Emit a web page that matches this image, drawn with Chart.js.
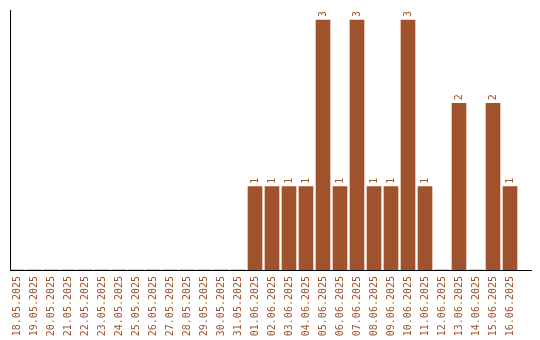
<!DOCTYPE html>
<html>
<head>
<meta charset="utf-8">
<script src="https://cdn.jsdelivr.net/npm/chart.js@4.4.1/dist/chart.umd.min.js"></script>
<style>
  html, body { margin: 0; padding: 0; background: #ffffff; }
  #wrap { width: 540px; height: 340px; position: relative; }
</style>
</head>
<body>
<div id="wrap"><canvas id="c" width="540" height="340"></canvas></div>
<script>
const categories = [
  "18.05.2025","19.05.2025","20.05.2025","21.05.2025","22.05.2025","23.05.2025",
  "24.05.2025","25.05.2025","26.05.2025","27.05.2025","28.05.2025","29.05.2025",
  "30.05.2025","31.05.2025","01.06.2025","02.06.2025","03.06.2025","04.06.2025",
  "05.06.2025","06.06.2025","07.06.2025","08.06.2025","09.06.2025","10.06.2025",
  "11.06.2025","12.06.2025","13.06.2025","14.06.2025","15.06.2025","16.06.2025"
];
const counts = [
  0,0,0,0,0,0,0,0,0,0,0,0,0,0,
  1,1,1,1,3,1,3,1,1,3,1,0,2,0,2,1
];

const BROWN = "#A0522D";
const FONT = "'DejaVu Sans Mono', 'Liberation Mono', monospace";

const points = categories.map((c, i) => ({ x: i, y: counts[i] }));

const valueLabels = {
  id: "valueLabels",
  afterDatasetsDraw(chart) {
    const ctx = chart.ctx;
    const meta = chart.getDatasetMeta(0);
    ctx.save();
    ctx.fillStyle = BROWN;
    ctx.font = "10px " + FONT;
    ctx.textAlign = "left";
    ctx.textBaseline = "middle";
    meta.data.forEach((el, i) => {
      const v = counts[i];
      if (!v) return;
      ctx.save();
      ctx.translate(el.x, el.y - 3);
      ctx.rotate(-Math.PI / 2);
      ctx.fillText(String(v), 0, 0);
      ctx.restore();
    });
    ctx.restore();
  }
};

const X_MIN = -7 / 17;
const X_MAX = X_MIN + 521 / 17;

new Chart(document.getElementById("c"), {
  type: "bar",
  data: {
    datasets: [{
      data: points,
      backgroundColor: BROWN,
      borderWidth: 0,
      barThickness: 14
    }]
  },
  options: {
    responsive: false,
    animation: false,
    events: [],
    layout: { padding: { left: 10, right: 9, top: 10, bottom: 4 } },
    plugins: { legend: { display: false }, tooltip: { enabled: false } },
    scales: {
      x: {
        type: "linear",
        offset: false,
        min: X_MIN,
        max: X_MAX,
        afterFit: (scale) => { scale.height = 66; },
        grid: { display: false, drawTicks: false },
        border: { display: true, color: "#000000", width: 1 },
        ticks: {
          stepSize: 1,
          includeBounds: false,
          autoSkip: false,
          maxTicksLimit: 100,
          minRotation: 90,
          maxRotation: 90,
          padding: 6,
          color: BROWN,
          font: { family: FONT, size: 10 },
          callback: (v) => (Number.isInteger(v) && v >= 0 && v < categories.length) ? categories[v] : null
        }
      },
      y: {
        min: 0,
        max: 3.12,
        grid: { display: false, drawTicks: false },
        border: { display: true, color: "#000000", width: 1 },
        ticks: { display: false }
      }
    }
  },
  plugins: [valueLabels]
});
</script>
</body>
</html>
